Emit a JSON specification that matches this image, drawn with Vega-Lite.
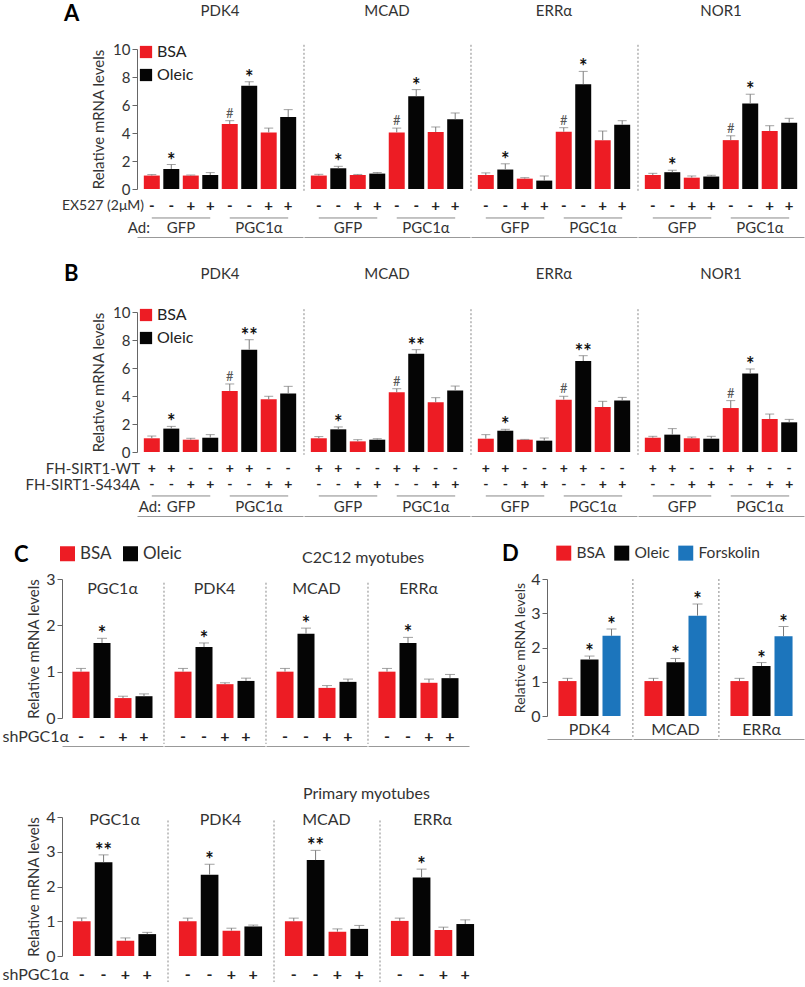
{
  "$schema": "https://vega.github.io/schema/vega-lite/v6.json",
  "padding": {"left": 2, "top": 3, "right": 2, "bottom": 0},
  "background": "white",
  "config": {
    "font": "Lato",
    "view": {"stroke": null},
    "axis": {"labelFont": "Lato", "titleFont": "Lato", "labelColor": "#333", "titleColor": "#333", "domainColor": "#666", "tickColor": "#666", "grid": false, "titleFontWeight": "normal", "labelOverlap": false, "labelFlush": false},
    "header": {"labelFont": "Lato", "labelColor": "#333"},
    "legend": {"labelFont": "Lato", "titleFont": "Lato"},
    "title": {"font": "Lato", "fontWeight": "normal", "color": "#333"},
    "text": {"font": "Lato"}
  },
  "resolve": {"scale": {"color": "independent"}, "legend": {"color": "independent"}},
  "spacing": 26,
  "vconcat": [
    {
      "hconcat": [
        {
          "width": 131, "height": 140,
          "data": {"values": [{"r": "letter", "t": "A"}, {"r": "row1", "t": "EX527 (2μM)"}, {"r": "row3", "t": "Ad:"}]},
          "layer": [
            {"transform": [{"filter": "datum.r=='letter'"}], "mark": {"type": "text", "fontSize": 22, "fontWeight": "bold", "align": "left", "baseline": "middle", "color": "#000"},
             "encoding": {"x": {"datum": 0.443, "type": "quantitative", "scale": {"domain": [0,1]}, "axis": null}, "y": {"datum": 12.5, "type": "quantitative", "scale": {"domain": [0,10]}, "axis": null}, "text": {"field": "t"}}},
            {"transform": [{"filter": "datum.r=='row1'"}], "mark": {"type": "text", "fontSize": 14, "align": "right", "baseline": "middle", "color": "#333", "dx": 7},
             "encoding": {"x": {"datum": 1, "type": "quantitative", "scale": {"domain": [0,1]}, "axis": null}, "y": {"datum": -1.22, "type": "quantitative", "scale": {"domain": [0,10]}, "axis": null}, "text": {"field": "t"}}},
            {"transform": [{"filter": "datum.r=='row3'"}], "mark": {"type": "text", "fontSize": 15, "align": "right", "baseline": "middle", "color": "#333", "dx": 13},
             "encoding": {"x": {"datum": 1, "type": "quantitative", "scale": {"domain": [0,1]}, "axis": null}, "y": {"datum": -2.8, "type": "quantitative", "scale": {"domain": [0,10]}, "axis": null}, "text": {"field": "t"}}}
          ]
        },
        {
          "data": {"values": [
            {"kind":"bar","gene":"PDK4","cond":1,"trt":"BSA","v":0.96,"hi":1.03,"sig":"","ex":"-"},
            {"kind":"bar","gene":"PDK4","cond":2,"trt":"Oleic","v":1.43,"hi":1.75,"sig":"*","ex":"-"},
            {"kind":"bar","gene":"PDK4","cond":3,"trt":"BSA","v":0.96,"hi":1.0,"sig":"","ex":"+"},
            {"kind":"bar","gene":"PDK4","cond":4,"trt":"Oleic","v":1.0,"hi":1.17,"sig":"","ex":"+"},
            {"kind":"bar","gene":"PDK4","cond":5,"trt":"BSA","v":4.64,"hi":4.88,"sig":"#","ex":"-"},
            {"kind":"bar","gene":"PDK4","cond":6,"trt":"Oleic","v":7.37,"hi":7.66,"sig":"*","ex":"-"},
            {"kind":"bar","gene":"PDK4","cond":7,"trt":"BSA","v":4.04,"hi":4.35,"sig":"","ex":"+"},
            {"kind":"bar","gene":"PDK4","cond":8,"trt":"Oleic","v":5.14,"hi":5.67,"sig":"","ex":"+"},
            {"kind":"bar","gene":"MCAD","cond":1,"trt":"BSA","v":0.96,"hi":1.05,"sig":"","ex":"-"},
            {"kind":"bar","gene":"MCAD","cond":2,"trt":"Oleic","v":1.48,"hi":1.62,"sig":"*","ex":"-"},
            {"kind":"bar","gene":"MCAD","cond":3,"trt":"BSA","v":1.0,"hi":1.04,"sig":"","ex":"+"},
            {"kind":"bar","gene":"MCAD","cond":4,"trt":"Oleic","v":1.1,"hi":1.18,"sig":"","ex":"+"},
            {"kind":"bar","gene":"MCAD","cond":5,"trt":"BSA","v":4.04,"hi":4.35,"sig":"#","ex":"-"},
            {"kind":"bar","gene":"MCAD","cond":6,"trt":"Oleic","v":6.63,"hi":7.1,"sig":"*","ex":"-"},
            {"kind":"bar","gene":"MCAD","cond":7,"trt":"BSA","v":4.07,"hi":4.43,"sig":"","ex":"+"},
            {"kind":"bar","gene":"MCAD","cond":8,"trt":"Oleic","v":4.98,"hi":5.43,"sig":"","ex":"+"},
            {"kind":"bar","gene":"ERRα","cond":1,"trt":"BSA","v":1.0,"hi":1.15,"sig":"","ex":"-"},
            {"kind":"bar","gene":"ERRα","cond":2,"trt":"Oleic","v":1.39,"hi":1.8,"sig":"*","ex":"-"},
            {"kind":"bar","gene":"ERRα","cond":3,"trt":"BSA","v":0.74,"hi":0.81,"sig":"","ex":"+"},
            {"kind":"bar","gene":"ERRα","cond":4,"trt":"Oleic","v":0.6,"hi":0.93,"sig":"","ex":"+"},
            {"kind":"bar","gene":"ERRα","cond":5,"trt":"BSA","v":4.09,"hi":4.38,"sig":"#","ex":"-"},
            {"kind":"bar","gene":"ERRα","cond":6,"trt":"Oleic","v":7.49,"hi":8.4,"sig":"*","ex":"-"},
            {"kind":"bar","gene":"ERRα","cond":7,"trt":"BSA","v":3.49,"hi":4.14,"sig":"","ex":"+"},
            {"kind":"bar","gene":"ERRα","cond":8,"trt":"Oleic","v":4.59,"hi":4.88,"sig":"","ex":"+"},
            {"kind":"bar","gene":"NOR1","cond":1,"trt":"BSA","v":1.0,"hi":1.12,"sig":"","ex":"-"},
            {"kind":"bar","gene":"NOR1","cond":2,"trt":"Oleic","v":1.2,"hi":1.34,"sig":"*","ex":"-"},
            {"kind":"bar","gene":"NOR1","cond":3,"trt":"BSA","v":0.81,"hi":0.93,"sig":"","ex":"+"},
            {"kind":"bar","gene":"NOR1","cond":4,"trt":"Oleic","v":0.89,"hi":0.98,"sig":"","ex":"+"},
            {"kind":"bar","gene":"NOR1","cond":5,"trt":"BSA","v":3.49,"hi":3.8,"sig":"#","ex":"-"},
            {"kind":"bar","gene":"NOR1","cond":6,"trt":"Oleic","v":6.1,"hi":6.77,"sig":"*","ex":"-"},
            {"kind":"bar","gene":"NOR1","cond":7,"trt":"BSA","v":4.14,"hi":4.52,"sig":"","ex":"+"},
            {"kind":"bar","gene":"NOR1","cond":8,"trt":"Oleic","v":4.74,"hi":5.05,"sig":"","ex":"+"},
            {"kind":"ad","gene":"PDK4","c1":1,"c2":4,"cm":3,"ad":"GFP"},
            {"kind":"ad","gene":"PDK4","c1":5,"c2":8,"cm":7,"ad":"PGC1α"},
            {"kind":"ad","gene":"MCAD","c1":1,"c2":4,"cm":3,"ad":"GFP"},
            {"kind":"ad","gene":"MCAD","c1":5,"c2":8,"cm":7,"ad":"PGC1α"},
            {"kind":"ad","gene":"ERRα","c1":1,"c2":4,"cm":3,"ad":"GFP"},
            {"kind":"ad","gene":"ERRα","c1":5,"c2":8,"cm":7,"ad":"PGC1α"},
            {"kind":"ad","gene":"NOR1","c1":1,"c2":4,"cm":3,"ad":"GFP"},
            {"kind":"ad","gene":"NOR1","c1":5,"c2":8,"cm":7,"ad":"PGC1α"},
            {"kind":"sep","gene":"MCAD"},
            {"kind":"sep","gene":"ERRα"},
            {"kind":"sep","gene":"NOR1"}
          ]},
          "facet": {"column": {"field": "gene", "type": "nominal", "sort": ["PDK4","MCAD","ERRα","NOR1"], "title": null, "header": {"labels": false}}},
          "spacing": 0,
          "spec": {
            "width": 166, "height": 140,
            "layer": [
              {"transform": [{"filter": "datum.kind=='bar'"}], "mark": {"type": "bar"},
               "encoding": {
                 "x": {"field": "cond", "type": "ordinal", "scale": {"domain": [1,2,3,4,5,6,7,8], "paddingInner": 0.18, "paddingOuter": 0.35}, "axis": {"labels": false, "ticks": false, "title": null, "domainColor": "#999"}},
                 "y": {"field": "v", "type": "quantitative", "scale": {"domain": [0,10]}, "axis": {"values": [0,2,4,6,8,10], "tickCount": 12, "format": "d", "labelOverlap": false, "title": "Relative mRNA levels", "titleFontSize": 15, "labelFontSize": 15, "tickSize": 5, "titlePadding": 6, "labelPadding": 2}},
                 "color": {"field": "trt", "type": "nominal", "scale": {"domain": ["BSA","Oleic"], "range": ["#ED1C24","#050505"]}, "legend": {"orient": "none", "legendX": 1, "legendY": -5, "title": null, "symbolType": "square", "symbolSize": 150, "symbolStrokeWidth": 0, "labelFontSize": 16, "labelColor": "#222", "rowPadding": 7, "labelOffset": 3}}
               }},
              {"transform": [{"filter": "datum.kind=='bar'"}], "mark": {"type": "rule", "color": "#7a7a7a", "strokeWidth": 1},
               "encoding": {
                 "x": {"field": "cond", "type": "ordinal", "scale": {"domain": [1,2,3,4,5,6,7,8], "paddingInner": 0.18, "paddingOuter": 0.35}},
                 "y": {"field": "v", "type": "quantitative", "scale": {"domain": [0,10]}},
                 "y2": {"field": "hi"}
               }},
              {"transform": [{"filter": "datum.kind=='bar'"}], "mark": {"type": "tick", "color": "#7a7a7a", "thickness": 1, "size": 9},
               "encoding": {
                 "x": {"field": "cond", "type": "ordinal", "scale": {"domain": [1,2,3,4,5,6,7,8], "paddingInner": 0.18, "paddingOuter": 0.35}},
                 "y": {"field": "hi", "type": "quantitative", "scale": {"domain": [0,10]}}
               }},
              {"transform": [{"filter": "datum.kind=='bar' && (datum.sig=='*' || datum.sig=='**')"}], "mark": {"type": "text", "fontSize": 20, "fontWeight": "bold", "color": "#111", "baseline": "alphabetic", "dy": 3},
               "encoding": {
                 "x": {"field": "cond", "type": "ordinal", "scale": {"domain": [1,2,3,4,5,6,7,8], "paddingInner": 0.18, "paddingOuter": 0.35}},
                 "y": {"field": "hi", "type": "quantitative", "scale": {"domain": [0,10]}},
                 "text": {"field": "sig"}
               }},
              {"transform": [{"filter": "datum.kind=='bar' && datum.sig=='#'"}], "mark": {"type": "text", "fontSize": 13, "color": "#555", "baseline": "alphabetic", "dy": -3},
               "encoding": {
                 "x": {"field": "cond", "type": "ordinal", "scale": {"domain": [1,2,3,4,5,6,7,8], "paddingInner": 0.18, "paddingOuter": 0.35}},
                 "y": {"field": "hi", "type": "quantitative", "scale": {"domain": [0,10]}},
                 "text": {"field": "sig"}
               }},
              {"transform": [{"filter": "datum.kind=='bar' && datum.cond==1"}], "mark": {"type": "text", "fontSize": 15, "color": "#333", "baseline": "middle"},
               "encoding": {
                 "x": {"datum": 5, "type": "ordinal", "bandPosition": -0.11, "scale": {"domain": [1,2,3,4,5,6,7,8], "paddingInner": 0.18, "paddingOuter": 0.35}},
                 "y": {"datum": 12.71, "type": "quantitative", "scale": {"domain": [0,10]}},
                 "text": {"field": "gene"}
               }},
              {"transform": [{"filter": "datum.kind=='bar'"}], "mark": {"type": "text", "fontSize": 15, "fontWeight": "bold", "color": "#222", "baseline": "middle"},
               "encoding": {
                 "x": {"field": "cond", "type": "ordinal", "scale": {"domain": [1,2,3,4,5,6,7,8], "paddingInner": 0.18, "paddingOuter": 0.35}},
                 "y": {"datum": -1.18, "type": "quantitative", "scale": {"domain": [0,10]}},
                 "text": {"field": "ex"}
               }},
              {"transform": [{"filter": "datum.kind=='ad'"}], "mark": {"type": "rule", "color": "#888", "strokeWidth": 1},
               "encoding": {
                 "x": {"field": "c1", "type": "ordinal", "scale": {"domain": [1,2,3,4,5,6,7,8], "paddingInner": 0.18, "paddingOuter": 0.35}},
                 "x2": {"field": "c2"},
                 "y": {"datum": -2.07, "type": "quantitative", "scale": {"domain": [0,10]}}
               }},
              {"transform": [{"filter": "datum.kind=='ad'"}], "mark": {"type": "text", "fontSize": 15, "color": "#333", "baseline": "middle"},
               "encoding": {
                 "x": {"field": "cm", "type": "ordinal", "bandPosition": -0.11, "scale": {"domain": [1,2,3,4,5,6,7,8], "paddingInner": 0.18, "paddingOuter": 0.35}},
                 "y": {"datum": -2.8, "type": "quantitative", "scale": {"domain": [0,10]}},
                 "text": {"field": "ad"}
               }},
              {"transform": [{"filter": "datum.kind=='sep'"}], "mark": {"type": "rule", "color": "#888", "strokeWidth": 1, "strokeDash": [2,2]},
               "encoding": {
                 "x": {"datum": 1, "type": "ordinal", "bandPosition": -0.427, "scale": {"domain": [1,2,3,4,5,6,7,8], "paddingInner": 0.18, "paddingOuter": 0.35}},
                 "y": {"datum": 10.3, "type": "quantitative", "scale": {"domain": [0,10]}},
                 "y2": {"datum": -0.2}
               }}
            ]
          }
        }
      ],
      "bounds": "flush",
      "spacing": 0,
      "resolve": {"scale": {"color": "independent"}, "legend": {"color": "independent"}}
    },
    {
      "hconcat": [
        {
          "width": 131, "height": 140,
          "data": {"values": [{"r": "letter", "t": "B"}, {"r": "row1", "t": "FH-SIRT1-WT"}, {"r": "row2", "t": "FH-SIRT1-S434A"}, {"r": "row3", "t": "Ad:"}]},
          "layer": [
            {"transform": [{"filter": "datum.r=='letter'"}], "mark": {"type": "text", "fontSize": 22, "fontWeight": "bold", "align": "left", "baseline": "middle", "color": "#000"},
             "encoding": {"x": {"datum": 0.443, "type": "quantitative", "scale": {"domain": [0,1]}, "axis": null}, "y": {"datum": 12.71, "type": "quantitative", "scale": {"domain": [0,10]}, "axis": null}, "text": {"field": "t"}}},
            {"transform": [{"filter": "datum.r=='row1'"}], "mark": {"type": "text", "fontSize": 15, "align": "right", "baseline": "middle", "color": "#333", "dx": 3},
             "encoding": {"x": {"datum": 1, "type": "quantitative", "scale": {"domain": [0,1]}, "axis": null}, "y": {"datum": -1.21, "type": "quantitative", "scale": {"domain": [0,10]}, "axis": null}, "text": {"field": "t"}}},
            {"transform": [{"filter": "datum.r=='row2'"}], "mark": {"type": "text", "fontSize": 15, "align": "right", "baseline": "middle", "color": "#333", "dx": 3},
             "encoding": {"x": {"datum": 1, "type": "quantitative", "scale": {"domain": [0,1]}, "axis": null}, "y": {"datum": -2.36, "type": "quantitative", "scale": {"domain": [0,10]}, "axis": null}, "text": {"field": "t"}}},
            {"transform": [{"filter": "datum.r=='row3'"}], "mark": {"type": "text", "fontSize": 15, "align": "right", "baseline": "middle", "color": "#333", "dx": 24},
             "encoding": {"x": {"datum": 1, "type": "quantitative", "scale": {"domain": [0,1]}, "axis": null}, "y": {"datum": -3.93, "type": "quantitative", "scale": {"domain": [0,10]}, "axis": null}, "text": {"field": "t"}}}
          ]
        },
        {
          "data": {"values": [
            {"kind":"bar","gene":"PDK4","cond":1,"trt":"BSA","v":0.98,"hi":1.14,"sig":"","wt":"+","mu":"-"},
            {"kind":"bar","gene":"PDK4","cond":2,"trt":"Oleic","v":1.67,"hi":1.83,"sig":"*","wt":"+","mu":"-"},
            {"kind":"bar","gene":"PDK4","cond":3,"trt":"BSA","v":0.88,"hi":0.98,"sig":"","wt":"-","mu":"+"},
            {"kind":"bar","gene":"PDK4","cond":4,"trt":"Oleic","v":1.02,"hi":1.24,"sig":"","wt":"-","mu":"+"},
            {"kind":"bar","gene":"PDK4","cond":5,"trt":"BSA","v":4.36,"hi":4.86,"sig":"#","wt":"+","mu":"-"},
            {"kind":"bar","gene":"PDK4","cond":6,"trt":"Oleic","v":7.31,"hi":8.02,"sig":"**","wt":"+","mu":"-"},
            {"kind":"bar","gene":"PDK4","cond":7,"trt":"BSA","v":3.76,"hi":3.98,"sig":"","wt":"-","mu":"+"},
            {"kind":"bar","gene":"PDK4","cond":8,"trt":"Oleic","v":4.17,"hi":4.69,"sig":"","wt":"-","mu":"+"},
            {"kind":"bar","gene":"MCAD","cond":1,"trt":"BSA","v":0.98,"hi":1.1,"sig":"","wt":"+","mu":"-"},
            {"kind":"bar","gene":"MCAD","cond":2,"trt":"Oleic","v":1.62,"hi":1.79,"sig":"*","wt":"+","mu":"-"},
            {"kind":"bar","gene":"MCAD","cond":3,"trt":"BSA","v":0.76,"hi":0.88,"sig":"","wt":"-","mu":"+"},
            {"kind":"bar","gene":"MCAD","cond":4,"trt":"Oleic","v":0.88,"hi":0.95,"sig":"","wt":"-","mu":"+"},
            {"kind":"bar","gene":"MCAD","cond":5,"trt":"BSA","v":4.26,"hi":4.52,"sig":"#","wt":"+","mu":"-"},
            {"kind":"bar","gene":"MCAD","cond":6,"trt":"Oleic","v":7.02,"hi":7.31,"sig":"**","wt":"+","mu":"-"},
            {"kind":"bar","gene":"MCAD","cond":7,"trt":"BSA","v":3.55,"hi":3.88,"sig":"","wt":"-","mu":"+"},
            {"kind":"bar","gene":"MCAD","cond":8,"trt":"Oleic","v":4.4,"hi":4.71,"sig":"","wt":"-","mu":"+"},
            {"kind":"bar","gene":"ERRα","cond":1,"trt":"BSA","v":0.95,"hi":1.24,"sig":"","wt":"+","mu":"-"},
            {"kind":"bar","gene":"ERRα","cond":2,"trt":"Oleic","v":1.52,"hi":1.62,"sig":"*","wt":"+","mu":"-"},
            {"kind":"bar","gene":"ERRα","cond":3,"trt":"BSA","v":0.88,"hi":0.9,"sig":"","wt":"-","mu":"+"},
            {"kind":"bar","gene":"ERRα","cond":4,"trt":"Oleic","v":0.81,"hi":1.0,"sig":"","wt":"-","mu":"+"},
            {"kind":"bar","gene":"ERRα","cond":5,"trt":"BSA","v":3.74,"hi":3.98,"sig":"#","wt":"+","mu":"-"},
            {"kind":"bar","gene":"ERRα","cond":6,"trt":"Oleic","v":6.5,"hi":6.88,"sig":"**","wt":"+","mu":"-"},
            {"kind":"bar","gene":"ERRα","cond":7,"trt":"BSA","v":3.21,"hi":3.62,"sig":"","wt":"-","mu":"+"},
            {"kind":"bar","gene":"ERRα","cond":8,"trt":"Oleic","v":3.67,"hi":3.9,"sig":"","wt":"-","mu":"+"},
            {"kind":"bar","gene":"NOR1","cond":1,"trt":"BSA","v":1.02,"hi":1.12,"sig":"","wt":"+","mu":"-"},
            {"kind":"bar","gene":"NOR1","cond":2,"trt":"Oleic","v":1.24,"hi":1.67,"sig":"","wt":"+","mu":"-"},
            {"kind":"bar","gene":"NOR1","cond":3,"trt":"BSA","v":0.98,"hi":1.07,"sig":"","wt":"-","mu":"+"},
            {"kind":"bar","gene":"NOR1","cond":4,"trt":"Oleic","v":0.95,"hi":1.12,"sig":"","wt":"-","mu":"+"},
            {"kind":"bar","gene":"NOR1","cond":5,"trt":"BSA","v":3.14,"hi":3.67,"sig":"#","wt":"+","mu":"-"},
            {"kind":"bar","gene":"NOR1","cond":6,"trt":"Oleic","v":5.6,"hi":5.93,"sig":"*","wt":"+","mu":"-"},
            {"kind":"bar","gene":"NOR1","cond":7,"trt":"BSA","v":2.36,"hi":2.71,"sig":"","wt":"-","mu":"+"},
            {"kind":"bar","gene":"NOR1","cond":8,"trt":"Oleic","v":2.12,"hi":2.33,"sig":"","wt":"-","mu":"+"},
            {"kind":"ad","gene":"PDK4","c1":1,"c2":4,"cm":3,"ad":"GFP"},
            {"kind":"ad","gene":"PDK4","c1":5,"c2":8,"cm":7,"ad":"PGC1α"},
            {"kind":"ad","gene":"MCAD","c1":1,"c2":4,"cm":3,"ad":"GFP"},
            {"kind":"ad","gene":"MCAD","c1":5,"c2":8,"cm":7,"ad":"PGC1α"},
            {"kind":"ad","gene":"ERRα","c1":1,"c2":4,"cm":3,"ad":"GFP"},
            {"kind":"ad","gene":"ERRα","c1":5,"c2":8,"cm":7,"ad":"PGC1α"},
            {"kind":"ad","gene":"NOR1","c1":1,"c2":4,"cm":3,"ad":"GFP"},
            {"kind":"ad","gene":"NOR1","c1":5,"c2":8,"cm":7,"ad":"PGC1α"},
            {"kind":"sep","gene":"MCAD"},
            {"kind":"sep","gene":"ERRα"},
            {"kind":"sep","gene":"NOR1"}
          ]},
          "facet": {"column": {"field": "gene", "type": "nominal", "sort": ["PDK4","MCAD","ERRα","NOR1"], "title": null, "header": {"labels": false}}},
          "spacing": 0,
          "spec": {
            "width": 166, "height": 140,
            "layer": [
              {"transform": [{"filter": "datum.kind=='bar'"}], "mark": {"type": "bar"},
               "encoding": {
                 "x": {"field": "cond", "type": "ordinal", "scale": {"domain": [1,2,3,4,5,6,7,8], "paddingInner": 0.18, "paddingOuter": 0.35}, "axis": {"labels": false, "ticks": false, "title": null, "domainColor": "#999"}},
                 "y": {"field": "v", "type": "quantitative", "scale": {"domain": [0,10]}, "axis": {"values": [0,2,4,6,8,10], "tickCount": 12, "format": "d", "labelOverlap": false, "title": "Relative mRNA levels", "titleFontSize": 15, "labelFontSize": 15, "tickSize": 5, "titlePadding": 6, "labelPadding": 2}},
                 "color": {"field": "trt", "type": "nominal", "scale": {"domain": ["BSA","Oleic"], "range": ["#ED1C24","#050505"]}, "legend": {"orient": "none", "legendX": 1, "legendY": -5, "title": null, "symbolType": "square", "symbolSize": 150, "symbolStrokeWidth": 0, "labelFontSize": 16, "labelColor": "#222", "rowPadding": 7, "labelOffset": 3}}
               }},
              {"transform": [{"filter": "datum.kind=='bar'"}], "mark": {"type": "rule", "color": "#7a7a7a", "strokeWidth": 1},
               "encoding": {
                 "x": {"field": "cond", "type": "ordinal", "scale": {"domain": [1,2,3,4,5,6,7,8], "paddingInner": 0.18, "paddingOuter": 0.35}},
                 "y": {"field": "v", "type": "quantitative", "scale": {"domain": [0,10]}},
                 "y2": {"field": "hi"}
               }},
              {"transform": [{"filter": "datum.kind=='bar'"}], "mark": {"type": "tick", "color": "#7a7a7a", "thickness": 1, "size": 9},
               "encoding": {
                 "x": {"field": "cond", "type": "ordinal", "scale": {"domain": [1,2,3,4,5,6,7,8], "paddingInner": 0.18, "paddingOuter": 0.35}},
                 "y": {"field": "hi", "type": "quantitative", "scale": {"domain": [0,10]}}
               }},
              {"transform": [{"filter": "datum.kind=='bar' && (datum.sig=='*' || datum.sig=='**')"}], "mark": {"type": "text", "fontSize": 20, "fontWeight": "bold", "color": "#111", "baseline": "alphabetic", "dy": 3},
               "encoding": {
                 "x": {"field": "cond", "type": "ordinal", "scale": {"domain": [1,2,3,4,5,6,7,8], "paddingInner": 0.18, "paddingOuter": 0.35}},
                 "y": {"field": "hi", "type": "quantitative", "scale": {"domain": [0,10]}},
                 "text": {"field": "sig"}
               }},
              {"transform": [{"filter": "datum.kind=='bar' && datum.sig=='#'"}], "mark": {"type": "text", "fontSize": 13, "color": "#555", "baseline": "alphabetic", "dy": -3},
               "encoding": {
                 "x": {"field": "cond", "type": "ordinal", "scale": {"domain": [1,2,3,4,5,6,7,8], "paddingInner": 0.18, "paddingOuter": 0.35}},
                 "y": {"field": "hi", "type": "quantitative", "scale": {"domain": [0,10]}},
                 "text": {"field": "sig"}
               }},
              {"transform": [{"filter": "datum.kind=='bar' && datum.cond==1"}], "mark": {"type": "text", "fontSize": 15, "color": "#333", "baseline": "middle"},
               "encoding": {
                 "x": {"datum": 5, "type": "ordinal", "bandPosition": -0.11, "scale": {"domain": [1,2,3,4,5,6,7,8], "paddingInner": 0.18, "paddingOuter": 0.35}},
                 "y": {"datum": 12.71, "type": "quantitative", "scale": {"domain": [0,10]}},
                 "text": {"field": "gene"}
               }},
              {"transform": [{"filter": "datum.kind=='bar'"}], "mark": {"type": "text", "fontSize": 14, "fontWeight": "bold", "color": "#222", "baseline": "middle"},
               "encoding": {
                 "x": {"field": "cond", "type": "ordinal", "scale": {"domain": [1,2,3,4,5,6,7,8], "paddingInner": 0.18, "paddingOuter": 0.35}},
                 "y": {"datum": -1.21, "type": "quantitative", "scale": {"domain": [0,10]}},
                 "text": {"field": "wt"}
               }},
              {"transform": [{"filter": "datum.kind=='bar'"}], "mark": {"type": "text", "fontSize": 14, "fontWeight": "bold", "color": "#222", "baseline": "middle"},
               "encoding": {
                 "x": {"field": "cond", "type": "ordinal", "scale": {"domain": [1,2,3,4,5,6,7,8], "paddingInner": 0.18, "paddingOuter": 0.35}},
                 "y": {"datum": -2.36, "type": "quantitative", "scale": {"domain": [0,10]}},
                 "text": {"field": "mu"}
               }},
              {"transform": [{"filter": "datum.kind=='ad'"}], "mark": {"type": "rule", "color": "#888", "strokeWidth": 1},
               "encoding": {
                 "x": {"field": "c1", "type": "ordinal", "scale": {"domain": [1,2,3,4,5,6,7,8], "paddingInner": 0.18, "paddingOuter": 0.35}},
                 "x2": {"field": "c2"},
                 "y": {"datum": -3.14, "type": "quantitative", "scale": {"domain": [0,10]}}
               }},
              {"transform": [{"filter": "datum.kind=='ad'"}], "mark": {"type": "text", "fontSize": 15, "color": "#333", "baseline": "middle"},
               "encoding": {
                 "x": {"field": "cm", "type": "ordinal", "bandPosition": -0.11, "scale": {"domain": [1,2,3,4,5,6,7,8], "paddingInner": 0.18, "paddingOuter": 0.35}},
                 "y": {"datum": -3.93, "type": "quantitative", "scale": {"domain": [0,10]}},
                 "text": {"field": "ad"}
               }},
              {"transform": [{"filter": "datum.kind=='sep'"}], "mark": {"type": "rule", "color": "#888", "strokeWidth": 1, "strokeDash": [2,2]},
               "encoding": {
                 "x": {"datum": 1, "type": "ordinal", "bandPosition": -0.427, "scale": {"domain": [1,2,3,4,5,6,7,8], "paddingInner": 0.18, "paddingOuter": 0.35}},
                 "y": {"datum": 10.2, "type": "quantitative", "scale": {"domain": [0,10]}},
                 "y2": {"datum": -0.2}
               }}
            ]
          }
        }
      ],
      "bounds": "flush",
      "spacing": 0,
      "resolve": {"scale": {"color": "independent"}, "legend": {"color": "independent"}}
    },
    {
      "hconcat": [
        {
          "vconcat": [
            {
              "hconcat": [
                {
                  "width": 56, "height": 139,
                  "data": {"values": [{"r": "letter", "t": "C"}, {"r": "row", "t": "shPGC1α"}]},
                  "layer": [
                    {"transform": [{"filter": "datum.r=='letter'"}], "mark": {"type": "text", "fontSize": 22, "fontWeight": "bold", "align": "left", "baseline": "middle", "color": "#000"},
                     "encoding": {"x": {"datum": 0.143, "type": "quantitative", "scale": {"domain": [0,1]}, "axis": null}, "y": {"datum": 3.52, "type": "quantitative", "scale": {"domain": [0,3]}, "axis": null}, "text": {"field": "t"}}},
                    {"transform": [{"filter": "datum.r=='row'"}], "mark": {"type": "text", "fontSize": 16, "align": "right", "baseline": "middle", "color": "#333", "dx": 7},
                     "encoding": {"x": {"datum": 1, "type": "quantitative", "scale": {"domain": [0,1]}, "axis": null}, "y": {"datum": -0.42, "type": "quantitative", "scale": {"domain": [0,3]}, "axis": null}, "text": {"field": "t"}}}
                  ]
                },
                {
                  "title": {"text": "C2C12 myotubes", "anchor": "start", "frame": "group", "dx": 240, "dy": 25, "fontSize": 16},
                  "data": {"values": [
                    {"kind":"bar","gene":"PGC1α","cond":1,"trt":"BSA","v":1.0,"hi":1.07,"sig":"","sh":"-"},
                    {"kind":"bar","gene":"PGC1α","cond":2,"trt":"Oleic","v":1.62,"hi":1.72,"sig":"*","sh":"-"},
                    {"kind":"bar","gene":"PGC1α","cond":3,"trt":"BSA","v":0.43,"hi":0.47,"sig":"","sh":"+"},
                    {"kind":"bar","gene":"PGC1α","cond":4,"trt":"Oleic","v":0.47,"hi":0.52,"sig":"","sh":"+"},
                    {"kind":"bar","gene":"PDK4","cond":1,"trt":"BSA","v":1.0,"hi":1.07,"sig":"","sh":"-"},
                    {"kind":"bar","gene":"PDK4","cond":2,"trt":"Oleic","v":1.53,"hi":1.62,"sig":"*","sh":"-"},
                    {"kind":"bar","gene":"PDK4","cond":3,"trt":"BSA","v":0.73,"hi":0.76,"sig":"","sh":"+"},
                    {"kind":"bar","gene":"PDK4","cond":4,"trt":"Oleic","v":0.8,"hi":0.86,"sig":"","sh":"+"},
                    {"kind":"bar","gene":"MCAD","cond":1,"trt":"BSA","v":1.0,"hi":1.07,"sig":"","sh":"-"},
                    {"kind":"bar","gene":"MCAD","cond":2,"trt":"Oleic","v":1.82,"hi":1.94,"sig":"*","sh":"-"},
                    {"kind":"bar","gene":"MCAD","cond":3,"trt":"BSA","v":0.65,"hi":0.7,"sig":"","sh":"+"},
                    {"kind":"bar","gene":"MCAD","cond":4,"trt":"Oleic","v":0.78,"hi":0.84,"sig":"","sh":"+"},
                    {"kind":"bar","gene":"ERRα","cond":1,"trt":"BSA","v":1.0,"hi":1.07,"sig":"","sh":"-"},
                    {"kind":"bar","gene":"ERRα","cond":2,"trt":"Oleic","v":1.62,"hi":1.74,"sig":"*","sh":"-"},
                    {"kind":"bar","gene":"ERRα","cond":3,"trt":"BSA","v":0.76,"hi":0.84,"sig":"","sh":"+"},
                    {"kind":"bar","gene":"ERRα","cond":4,"trt":"Oleic","v":0.86,"hi":0.94,"sig":"","sh":"+"},
                    {"kind":"sep","gene":"PDK4"},
                    {"kind":"sep","gene":"MCAD"},
                    {"kind":"sep","gene":"ERRα"}
                  ]},
                  "facet": {"column": {"field": "gene", "type": "nominal", "sort": ["PGC1α","PDK4","MCAD","ERRα"], "title": null, "header": {"labels": false}}},
                  "spacing": 0,
                  "spec": {
                    "width": 101, "height": 139,
                    "layer": [
                      {"transform": [{"filter": "datum.kind=='bar'"}], "mark": {"type": "bar"},
                       "encoding": {
                         "x": {"field": "cond", "type": "ordinal", "scale": {"domain": [1,2,3,4], "paddingInner": 0.19, "paddingOuter": 0.5}, "axis": {"labels": false, "ticks": false, "title": null, "domainColor": "#999"}},
                         "y": {"field": "v", "type": "quantitative", "scale": {"domain": [0,3]}, "axis": {"values": [0,1,2,3], "tickCount": 12, "format": "d", "labelOverlap": false, "title": "Relative mRNA levels", "titleFontSize": 15, "labelFontSize": 16, "tickSize": 5, "titlePadding": 4, "labelPadding": 2}},
                         "color": {"field": "trt", "type": "nominal", "scale": {"domain": ["BSA","Oleic"], "range": ["#ED1C24","#050505"]}, "legend": {"orient": "none", "legendX": -3, "legendY": -34, "title": null, "direction": "horizontal", "symbolType": "square", "symbolSize": 225, "symbolStrokeWidth": 0, "labelFontSize": 17, "labelColor": "#333", "columnPadding": 10, "labelOffset": 4}}
                       }},
                      {"transform": [{"filter": "datum.kind=='bar'"}], "mark": {"type": "rule", "color": "#7a7a7a", "strokeWidth": 1},
                       "encoding": {
                         "x": {"field": "cond", "type": "ordinal", "scale": {"domain": [1,2,3,4], "paddingInner": 0.19, "paddingOuter": 0.5}},
                         "y": {"field": "v", "type": "quantitative", "scale": {"domain": [0,3]}},
                         "y2": {"field": "hi"}
                       }},
                      {"transform": [{"filter": "datum.kind=='bar'"}], "mark": {"type": "tick", "color": "#7a7a7a", "thickness": 1, "size": 10},
                       "encoding": {
                         "x": {"field": "cond", "type": "ordinal", "scale": {"domain": [1,2,3,4], "paddingInner": 0.19, "paddingOuter": 0.5}},
                         "y": {"field": "hi", "type": "quantitative", "scale": {"domain": [0,3]}}
                       }},
                      {"transform": [{"filter": "datum.kind=='bar' && datum.sig!=''"}], "mark": {"type": "text", "fontSize": 20, "fontWeight": "bold", "color": "#111", "baseline": "alphabetic", "dy": 3},
                       "encoding": {
                         "x": {"field": "cond", "type": "ordinal", "scale": {"domain": [1,2,3,4], "paddingInner": 0.19, "paddingOuter": 0.5}},
                         "y": {"field": "hi", "type": "quantitative", "scale": {"domain": [0,3]}},
                         "text": {"field": "sig"}
                       }},
                      {"transform": [{"filter": "datum.kind=='bar' && datum.cond==1"}], "mark": {"type": "text", "fontSize": 16, "color": "#333", "baseline": "middle"},
                       "encoding": {
                         "x": {"datum": 3, "type": "ordinal", "bandPosition": -0.117, "scale": {"domain": [1,2,3,4], "paddingInner": 0.19, "paddingOuter": 0.5}},
                         "y": {"datum": 2.79, "type": "quantitative", "scale": {"domain": [0,3]}},
                         "text": {"field": "gene"}
                       }},
                      {"transform": [{"filter": "datum.kind=='bar'"}], "mark": {"type": "text", "fontSize": 16, "fontWeight": "bold", "color": "#222", "baseline": "middle"},
                       "encoding": {
                         "x": {"field": "cond", "type": "ordinal", "scale": {"domain": [1,2,3,4], "paddingInner": 0.19, "paddingOuter": 0.5}},
                         "y": {"datum": -0.42, "type": "quantitative", "scale": {"domain": [0,3]}},
                         "text": {"field": "sh"}
                       }},
                      {"transform": [{"filter": "datum.kind=='sep'"}], "mark": {"type": "rule", "color": "#888", "strokeWidth": 1, "strokeDash": [2,2]},
                       "encoding": {
                         "x": {"datum": 1, "type": "ordinal", "bandPosition": -0.618, "scale": {"domain": [1,2,3,4], "paddingInner": 0.19, "paddingOuter": 0.5}},
                         "y": {"datum": 2.92, "type": "quantitative", "scale": {"domain": [0,3]}},
                         "y2": {"datum": -0.56}
                       }}
                    ]
                  }
                }
              ],
              "bounds": "flush",
              "spacing": 0,
              "resolve": {"scale": {"color": "independent"}, "legend": {"color": "independent"}}
            },
            {
              "hconcat": [
                {
                  "width": 56, "height": 139,
                  "data": {"values": [{"t": "shPGC1α"}]},
                  "mark": {"type": "text", "fontSize": 16, "align": "right", "baseline": "middle", "color": "#333", "dx": 7},
                  "encoding": {"x": {"datum": 1, "type": "quantitative", "scale": {"domain": [0,1]}, "axis": null}, "y": {"datum": -0.54, "type": "quantitative", "scale": {"domain": [0,4]}, "axis": null}, "text": {"field": "t"}}
                },
                {
                  "title": {"text": "Primary myotubes", "anchor": "start", "frame": "group", "dx": 241, "dy": -3, "fontSize": 16},
                  "data": {"values": [
                    {"kind":"bar","gene":"PGC1α","cond":1,"trt":"BSA","v":1.0,"hi":1.09,"sig":"","sh":"-"},
                    {"kind":"bar","gene":"PGC1α","cond":2,"trt":"Oleic","v":2.7,"hi":2.91,"sig":"**","sh":"-"},
                    {"kind":"bar","gene":"PGC1α","cond":3,"trt":"BSA","v":0.44,"hi":0.52,"sig":"","sh":"+"},
                    {"kind":"bar","gene":"PGC1α","cond":4,"trt":"Oleic","v":0.63,"hi":0.68,"sig":"","sh":"+"},
                    {"kind":"bar","gene":"PDK4","cond":1,"trt":"BSA","v":1.0,"hi":1.09,"sig":"","sh":"-"},
                    {"kind":"bar","gene":"PDK4","cond":2,"trt":"Oleic","v":2.34,"hi":2.64,"sig":"*","sh":"-"},
                    {"kind":"bar","gene":"PDK4","cond":3,"trt":"BSA","v":0.73,"hi":0.8,"sig":"","sh":"+"},
                    {"kind":"bar","gene":"PDK4","cond":4,"trt":"Oleic","v":0.85,"hi":0.89,"sig":"","sh":"+"},
                    {"kind":"bar","gene":"MCAD","cond":1,"trt":"BSA","v":1.0,"hi":1.09,"sig":"","sh":"-"},
                    {"kind":"bar","gene":"MCAD","cond":2,"trt":"Oleic","v":2.76,"hi":3.04,"sig":"**","sh":"-"},
                    {"kind":"bar","gene":"MCAD","cond":3,"trt":"BSA","v":0.7,"hi":0.78,"sig":"","sh":"+"},
                    {"kind":"bar","gene":"MCAD","cond":4,"trt":"Oleic","v":0.78,"hi":0.88,"sig":"","sh":"+"},
                    {"kind":"bar","gene":"ERRα","cond":1,"trt":"BSA","v":1.01,"hi":1.09,"sig":"","sh":"-"},
                    {"kind":"bar","gene":"ERRα","cond":2,"trt":"Oleic","v":2.26,"hi":2.5,"sig":"*","sh":"-"},
                    {"kind":"bar","gene":"ERRα","cond":3,"trt":"BSA","v":0.75,"hi":0.83,"sig":"","sh":"+"},
                    {"kind":"bar","gene":"ERRα","cond":4,"trt":"Oleic","v":0.92,"hi":1.04,"sig":"","sh":"+"},
                    {"kind":"sep","gene":"PDK4"},
                    {"kind":"sep","gene":"MCAD"},
                    {"kind":"sep","gene":"ERRα"}
                  ]},
                  "facet": {"column": {"field": "gene", "type": "nominal", "sort": ["PGC1α","PDK4","MCAD","ERRα"], "title": null, "header": {"labels": false}}},
                  "spacing": 0,
                  "spec": {
                    "width": 105, "height": 139,
                    "layer": [
                      {"transform": [{"filter": "datum.kind=='bar'"}], "mark": {"type": "bar"},
                       "encoding": {
                         "x": {"field": "cond", "type": "ordinal", "scale": {"domain": [1,2,3,4], "paddingInner": 0.19, "paddingOuter": 0.5}, "axis": {"labels": false, "ticks": false, "title": null, "domainColor": "#999"}},
                         "y": {"field": "v", "type": "quantitative", "scale": {"domain": [0,4]}, "axis": {"values": [0,1,2,3,4], "tickCount": 12, "format": "d", "labelOverlap": false, "title": "Relative mRNA levels", "titleFontSize": 15, "labelFontSize": 16, "tickSize": 5, "titlePadding": 4, "labelPadding": 2}},
                         "color": {"field": "trt", "type": "nominal", "scale": {"domain": ["BSA","Oleic"], "range": ["#ED1C24","#050505"]}, "legend": null}
                       }},
                      {"transform": [{"filter": "datum.kind=='bar'"}], "mark": {"type": "rule", "color": "#7a7a7a", "strokeWidth": 1},
                       "encoding": {
                         "x": {"field": "cond", "type": "ordinal", "scale": {"domain": [1,2,3,4], "paddingInner": 0.19, "paddingOuter": 0.5}},
                         "y": {"field": "v", "type": "quantitative", "scale": {"domain": [0,4]}},
                         "y2": {"field": "hi"}
                       }},
                      {"transform": [{"filter": "datum.kind=='bar'"}], "mark": {"type": "tick", "color": "#7a7a7a", "thickness": 1, "size": 10},
                       "encoding": {
                         "x": {"field": "cond", "type": "ordinal", "scale": {"domain": [1,2,3,4], "paddingInner": 0.19, "paddingOuter": 0.5}},
                         "y": {"field": "hi", "type": "quantitative", "scale": {"domain": [0,4]}}
                       }},
                      {"transform": [{"filter": "datum.kind=='bar' && datum.sig!=''"}], "mark": {"type": "text", "fontSize": 20, "fontWeight": "bold", "color": "#111", "baseline": "alphabetic", "dy": 3},
                       "encoding": {
                         "x": {"field": "cond", "type": "ordinal", "scale": {"domain": [1,2,3,4], "paddingInner": 0.19, "paddingOuter": 0.5}},
                         "y": {"field": "hi", "type": "quantitative", "scale": {"domain": [0,4]}},
                         "text": {"field": "sig"}
                       }},
                      {"transform": [{"filter": "datum.kind=='bar' && datum.cond==1"}], "mark": {"type": "text", "fontSize": 16, "color": "#333", "baseline": "middle"},
                       "encoding": {
                         "x": {"datum": 3, "type": "ordinal", "bandPosition": -0.117, "scale": {"domain": [1,2,3,4], "paddingInner": 0.19, "paddingOuter": 0.5}},
                         "y": {"datum": 3.91, "type": "quantitative", "scale": {"domain": [0,4]}},
                         "text": {"field": "gene"}
                       }},
                      {"transform": [{"filter": "datum.kind=='bar'"}], "mark": {"type": "text", "fontSize": 16, "fontWeight": "bold", "color": "#222", "baseline": "middle"},
                       "encoding": {
                         "x": {"field": "cond", "type": "ordinal", "scale": {"domain": [1,2,3,4], "paddingInner": 0.19, "paddingOuter": 0.5}},
                         "y": {"datum": -0.54, "type": "quantitative", "scale": {"domain": [0,4]}},
                         "text": {"field": "sh"}
                       }},
                      {"transform": [{"filter": "datum.kind=='sep'"}], "mark": {"type": "rule", "color": "#888", "strokeWidth": 1, "strokeDash": [2,2]},
                       "encoding": {
                         "x": {"datum": 1, "type": "ordinal", "bandPosition": -0.617, "scale": {"domain": [1,2,3,4], "paddingInner": 0.19, "paddingOuter": 0.5}},
                         "y": {"datum": 3.9, "type": "quantitative", "scale": {"domain": [0,4]}},
                         "y2": {"datum": -0.75}
                       }}
                    ]
                  }
                }
              ],
              "bounds": "flush",
              "spacing": 0,
              "resolve": {"scale": {"color": "independent"}, "legend": {"color": "independent"}}
            }
          ],
          "spacing": 40,
          "resolve": {"scale": {"color": "independent"}, "legend": {"color": "independent"}}
        },
        {
          "hconcat": [
            {
              "width": 45, "height": 137,
              "data": {"values": [{"t": "D"}]},
              "mark": {"type": "text", "fontSize": 22, "fontWeight": "bold", "align": "left", "baseline": "middle", "color": "#000"},
              "encoding": {"x": {"datum": 0, "type": "quantitative", "scale": {"domain": [0,1]}, "axis": null}, "y": {"datum": 4.73, "type": "quantitative", "scale": {"domain": [0,4]}, "axis": null}, "text": {"field": "t"}}
            },
            {
              "data": {"values": [
                {"kind":"bar","gene":"PDK4","trt":"BSA","v":1.02,"hi":1.1,"sig":""},
                {"kind":"bar","gene":"PDK4","trt":"Oleic","v":1.65,"hi":1.75,"sig":"*"},
                {"kind":"bar","gene":"PDK4","trt":"Forskolin","v":2.34,"hi":2.54,"sig":"*"},
                {"kind":"bar","gene":"MCAD","trt":"BSA","v":1.02,"hi":1.1,"sig":""},
                {"kind":"bar","gene":"MCAD","trt":"Oleic","v":1.57,"hi":1.68,"sig":"*"},
                {"kind":"bar","gene":"MCAD","trt":"Forskolin","v":2.93,"hi":3.27,"sig":"*"},
                {"kind":"bar","gene":"ERRα","trt":"BSA","v":1.02,"hi":1.1,"sig":""},
                {"kind":"bar","gene":"ERRα","trt":"Oleic","v":1.46,"hi":1.56,"sig":"*"},
                {"kind":"bar","gene":"ERRα","trt":"Forskolin","v":2.33,"hi":2.61,"sig":"*"},
                {"kind":"sep","gene":"MCAD"},
                {"kind":"sep","gene":"ERRα"}
              ]},
              "facet": {"column": {"field": "gene", "type": "nominal", "sort": ["PDK4","MCAD","ERRα"], "title": null, "header": {"labels": false}}},
              "spacing": 0,
              "spec": {
                "width": 85, "height": 137,
                "layer": [
                  {"transform": [{"filter": "datum.kind=='bar'"}], "mark": {"type": "bar"},
                   "encoding": {
                     "x": {"field": "trt", "type": "nominal", "sort": ["BSA","Oleic","Forskolin"], "scale": {"domain": ["BSA","Oleic","Forskolin"], "paddingInner": 0.18, "paddingOuter": 0.52}, "axis": {"labels": false, "ticks": false, "title": null, "domainColor": "#999"}},
                     "y": {"field": "v", "type": "quantitative", "scale": {"domain": [0,4]}, "axis": {"values": [0,1,2,3,4], "tickCount": 12, "format": "d", "labelOverlap": false, "title": "Relative mRNA levels", "titleFontSize": 14, "labelFontSize": 16, "tickSize": 5, "titlePadding": 3, "labelPadding": 2}},
                     "color": {"field": "trt", "type": "nominal", "scale": {"domain": ["BSA","Oleic","Forskolin"], "range": ["#ED1C24","#050505","#1C75BC"]}, "legend": {"orient": "none", "legendX": 9, "legendY": -34, "title": null, "direction": "horizontal", "symbolType": "square", "symbolSize": 225, "symbolStrokeWidth": 0, "labelFontSize": 15.5, "labelColor": "#333", "columnPadding": 8, "labelOffset": 5}}
                   }},
                  {"transform": [{"filter": "datum.kind=='bar'"}], "mark": {"type": "rule", "color": "#7a7a7a", "strokeWidth": 1},
                   "encoding": {
                     "x": {"field": "trt", "type": "nominal", "scale": {"domain": ["BSA","Oleic","Forskolin"], "paddingInner": 0.18, "paddingOuter": 0.52}},
                     "y": {"field": "v", "type": "quantitative", "scale": {"domain": [0,4]}},
                     "y2": {"field": "hi"}
                   }},
                  {"transform": [{"filter": "datum.kind=='bar'"}], "mark": {"type": "tick", "color": "#7a7a7a", "thickness": 1, "size": 10},
                   "encoding": {
                     "x": {"field": "trt", "type": "nominal", "scale": {"domain": ["BSA","Oleic","Forskolin"], "paddingInner": 0.18, "paddingOuter": 0.52}},
                     "y": {"field": "hi", "type": "quantitative", "scale": {"domain": [0,4]}}
                   }},
                  {"transform": [{"filter": "datum.kind=='bar' && datum.sig!=''"}], "mark": {"type": "text", "fontSize": 20, "fontWeight": "bold", "color": "#111", "baseline": "alphabetic", "dy": 3},
                   "encoding": {
                     "x": {"field": "trt", "type": "nominal", "scale": {"domain": ["BSA","Oleic","Forskolin"], "paddingInner": 0.18, "paddingOuter": 0.52}},
                     "y": {"field": "hi", "type": "quantitative", "scale": {"domain": [0,4]}},
                     "text": {"field": "sig"}
                   }},
                  {"transform": [{"filter": "datum.kind=='bar' && datum.trt=='Oleic'"}], "mark": {"type": "text", "fontSize": 16, "color": "#333", "baseline": "middle"},
                   "encoding": {
                     "x": {"field": "trt", "type": "nominal", "scale": {"domain": ["BSA","Oleic","Forskolin"], "paddingInner": 0.18, "paddingOuter": 0.52}},
                     "y": {"datum": -0.41, "type": "quantitative", "scale": {"domain": [0,4]}},
                     "text": {"field": "gene"}
                   }},
                  {"transform": [{"filter": "datum.kind=='sep'"}], "mark": {"type": "rule", "color": "#888", "strokeWidth": 1, "strokeDash": [2,2]},
                   "encoding": {
                     "x": {"datum": "BSA", "type": "nominal", "bandPosition": -0.64, "scale": {"domain": ["BSA","Oleic","Forskolin"], "paddingInner": 0.18, "paddingOuter": 0.52}},
                     "y": {"datum": 4.0, "type": "quantitative", "scale": {"domain": [0,4]}},
                     "y2": {"datum": -0.64}
                   }}
                ]
              }
            }
          ],
          "bounds": "flush",
          "spacing": 0,
          "resolve": {"scale": {"color": "independent"}, "legend": {"color": "independent"}}
        }
      ],
      "spacing": 17,
      "resolve": {"scale": {"color": "independent"}, "legend": {"color": "independent"}}
    }
  ]
}
